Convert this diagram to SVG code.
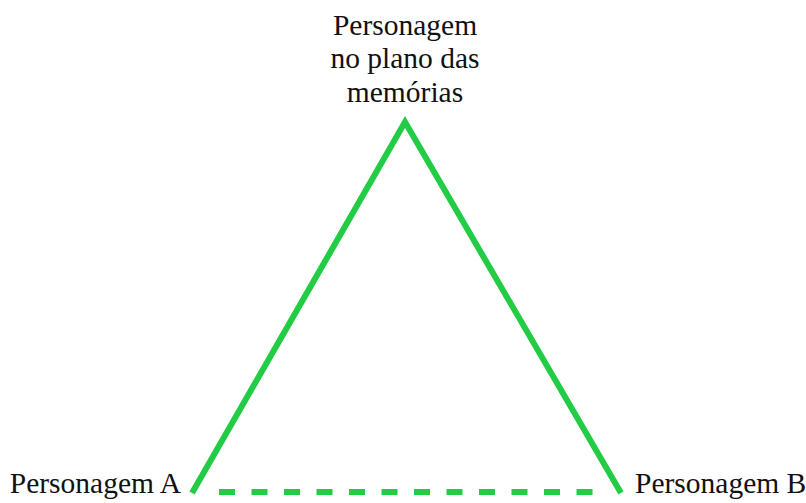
<svg xmlns="http://www.w3.org/2000/svg" width="806" height="503" viewBox="0 0 806 503">
<style>
text{font-family:"Liberation Serif","Times New Roman",serif;font-size:29.5px;fill:#111}
.leg{fill:none;stroke:#22cc44;stroke-width:6;stroke-linejoin:miter;stroke-miterlimit:10}
.dash{fill:none;stroke:#22cc44;stroke-width:6;stroke-dasharray:16 16.5}
</style>
<rect width="806" height="503" fill="#fff"/>
<g id="connectors">
<polyline class="leg" points="192,493 405,122 621,493"/>
<line class="dash" x1="219" y1="492" x2="600" y2="492"/>
</g>
<g id="top">
<text x="405" y="35" text-anchor="middle">Personagem</text>
<text x="405" y="68" text-anchor="middle">no plano das</text>
<text x="405" y="102" text-anchor="middle">memórias</text>
</g>
<g id="a"><text x="181" y="493" text-anchor="end">Personagem A</text></g>
<g id="b"><text x="635" y="493">Personagem B</text></g>
</svg>
